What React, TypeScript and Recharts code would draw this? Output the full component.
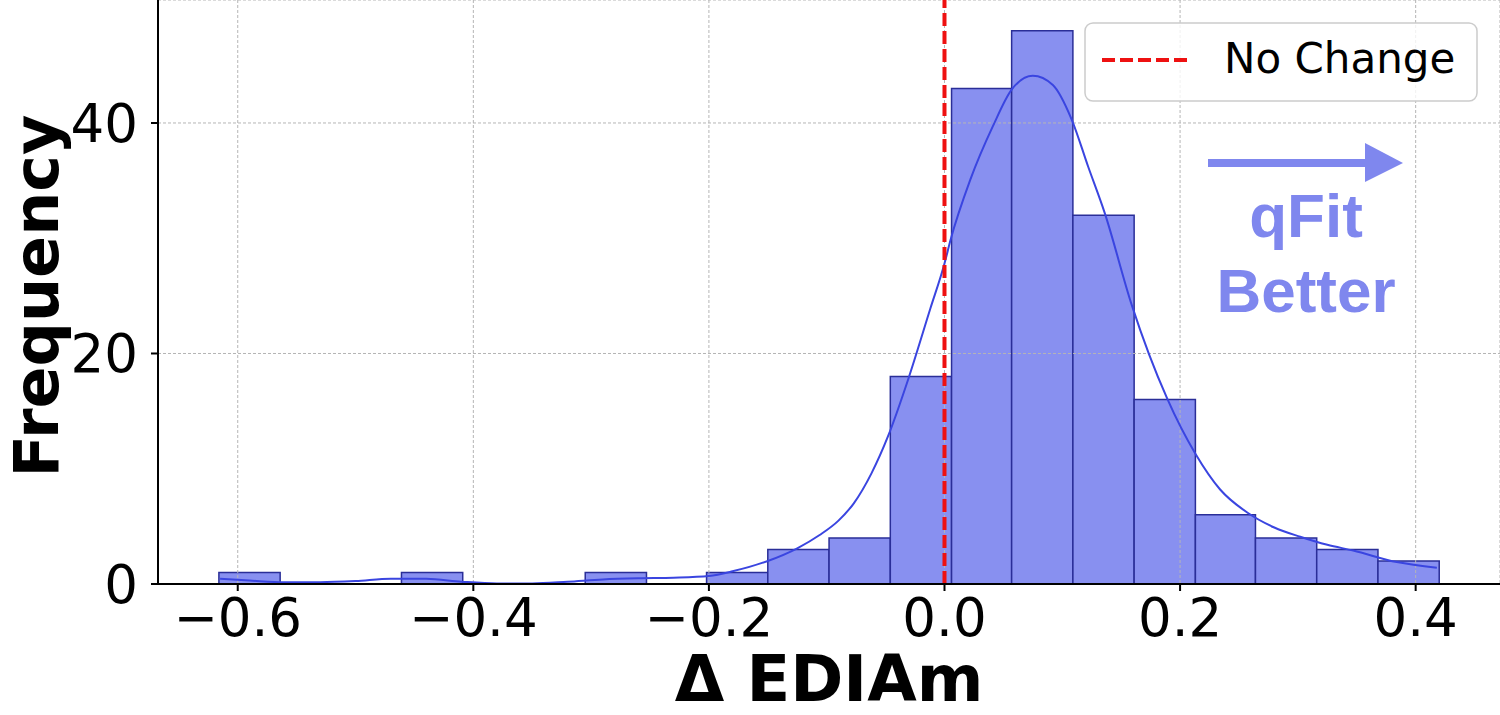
import React from 'react';
import {
  ComposedChart,
  Line,
  XAxis,
  YAxis,
  CartesianGrid,
  ReferenceArea,
  ReferenceLine,
} from 'recharts';

// histogram bins (20 equal bins between min and max of the data)
const binEdges = [
  -0.616, -0.564, -0.512, -0.461, -0.409, -0.357, -0.305, -0.253, -0.202, -0.15,
  -0.098, -0.046, 0.006, 0.057, 0.109, 0.161, 0.213, 0.264, 0.316, 0.368, 0.42,
];
const binCounts = [1, 0, 0, 1, 0, 0, 1, 0, 1, 3, 4, 18, 43, 48, 32, 16, 6, 4, 3, 2];

// kde curve, scaled to counts
const kdeX = [
  -0.615, -0.59, -0.56, -0.53, -0.5, -0.47, -0.44, -0.41, -0.38, -0.35, -0.32, -0.29,
  -0.26, -0.23, -0.2, -0.18, -0.15, -0.125, -0.106, -0.09, -0.077, -0.062, -0.048,
  -0.031, -0.012, 0, 0.005, 0.022, 0.041, 0.057, 0.075, 0.092, 0.108, 0.122, 0.136,
  0.159, 0.189, 0.213, 0.234, 0.257, 0.28, 0.302, 0.325, 0.347, 0.384, 0.418,
];
const kdeY = [
  0.45, 0.3, 0.15, 0.15, 0.25, 0.45, 0.45, 0.2, 0.05, 0.05, 0.2, 0.4,
  0.5, 0.55, 0.7, 1.1, 2.0, 3.1, 4.25, 5.5, 7.0, 9.6, 12.8,
  17.7, 23.9, 27.8, 29.8, 35.1, 39.7, 42.9, 44.1, 43.3, 40.3, 36.2, 32.2,
  24.2, 16.1, 11.3, 8.2, 6.2, 4.9, 4.1, 3.4, 2.9, 1.9, 1.4,
];

const xTicks = [-0.6, -0.4, -0.2, 0, 0.2, 0.4];
const yTicks = [0, 20, 40];
const xDomain: [number, number] = [-0.6677, 0.4716];
const yDomain: [number, number] = [0, 50.67];

const kdeData = kdeX.map((x, i) => ({ x, density: kdeY[i] }));
const bins = binCounts
  .map((count, i) => ({ x1: binEdges[i], x2: binEdges[i + 1], count }))
  .filter((b) => b.count > 0);

const FONT = 'DejaVu Sans';
const fmtX = (v: number) => (v < 0 ? '\u2212' : '') + Math.abs(v).toFixed(1);

function YLabel(props: any) {
  const vb = props.viewBox || { x: 0, y: 0, width: 158, height: 584 };
  const cx = vb.x + 58;
  const cy = vb.y + vb.height / 2 + 4;
  return (
    <text
      x={cx}
      y={cy}
      transform={`rotate(-90 ${cx} ${cy})`}
      textAnchor="middle"
      fontFamily={FONT}
      fontWeight="bold"
      fontSize={62}
      fill="#000"
    >
      Frequency
    </text>
  );
}

export default function App() {
  return (
    <div style={{ position: 'absolute', left: 0, top: 0, width: 1500, height: 715, background: '#fff' }}>
      <ComposedChart
        width={1500}
        height={715}
        data={kdeData}
        margin={{ top: 0, right: 0, bottom: 0, left: 0 }}
      >
        {bins.map((b, i) => (
          <ReferenceArea
            key={i}
            x1={b.x1}
            x2={b.x2}
            y1={0}
            y2={b.count}
            fill="#8890f0"
            fillOpacity={1}
            stroke="#2a2e98"
            strokeWidth={1.5}
            zIndex={100}
          />
        ))}
        <CartesianGrid
          stroke="#b5b5b5"
          strokeDasharray="3 2"
          strokeWidth={1}
          zIndex={200}
        />
        <XAxis
          dataKey="x"
          type="number"
          domain={xDomain}
          allowDataOverflow
          ticks={xTicks}
          interval={0}
          tickFormatter={fmtX}
          height={131}
          tickSize={7}
          tickMargin={7}
          axisLine={{ stroke: '#000', strokeWidth: 2 }}
          tickLine={{ stroke: '#000', strokeWidth: 2 }}
          tick={{ fill: '#000', fontSize: 53, fontFamily: FONT }}
          label={{
            value: '\u0394 EDIAm',
            position: 'insideBottom',
            offset: 14,
            fill: '#000',
            fontSize: 64,
            fontWeight: 'bold',
            fontFamily: FONT,
          }}
        />
        <YAxis
          type="number"
          domain={yDomain}
          allowDataOverflow
          ticks={yTicks}
          interval={0}
          width={158}
          tickSize={7}
          tickMargin={13}
          axisLine={{ stroke: '#000', strokeWidth: 2 }}
          tickLine={{ stroke: '#000', strokeWidth: 2 }}
          tick={{ fill: '#000', fontSize: 53, fontFamily: FONT }}
          label={{ content: (p: any) => <YLabel {...p} /> }}
        />
        <Line
          type="monotone"
          dataKey="density"
          stroke="#3a45e0"
          strokeWidth={2}
          dot={false}
          isAnimationActive={false}
          zIndex={300}
        />
        <ReferenceLine
          x={0}
          stroke="#ee1111"
          strokeWidth={4}
          strokeDasharray="13 5"
          zIndex={400}
        />
      </ComposedChart>

      {/* legend + annotation */}
      <svg
        width={1500}
        height={715}
        style={{ position: 'absolute', left: 0, top: 0, pointerEvents: 'none' }}
      >
        <rect
          x={1085}
          y={23}
          width={392}
          height={78}
          rx={8}
          fill="#fff"
          fillOpacity={0.8}
          stroke="#cccccc"
          strokeWidth={1.5}
        />
        <line x1={1102} y1={60} x2={1187} y2={60} stroke="#ee1111" strokeWidth={4} strokeDasharray="13 5" />
        <text x={1224} y={73} fontFamily={FONT} fontSize={42} fill="#000">
          No Change
        </text>

        <rect x={1208} y={159} width={158} height={8} fill="#7f87ee" />
        <polygon points="1365,143 1403,163 1365,182" fill="#7f87ee" />
        <text
          x={1306}
          y={237}
          textAnchor="middle"
          fontFamily="Liberation Sans"
          fontWeight="bold"
          fontSize={62}
          fill="#7f87ee"
        >
          qFit
        </text>
        <text
          x={1306}
          y={312}
          textAnchor="middle"
          fontFamily="Liberation Sans"
          fontWeight="bold"
          fontSize={62}
          fill="#7f87ee"
        >
          Better
        </text>
      </svg>
    </div>
  );
}
